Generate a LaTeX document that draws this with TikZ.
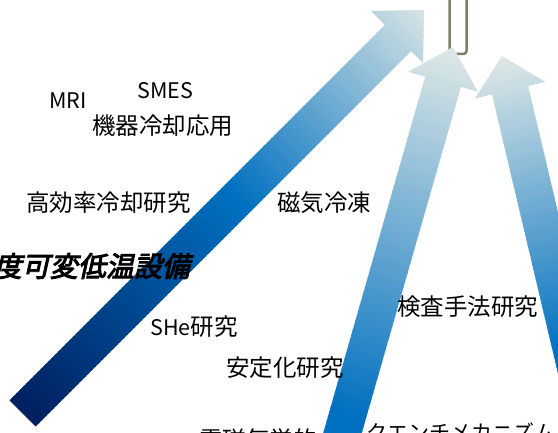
\documentclass[tikz,border=0pt]{standalone}
\usepackage{fontspec}
\setmainfont{Noto Sans CJK JP}
\newfontfamily\cjkbi[FakeSlant=0.22,FakeBold=3.5]{Noto Sans CJK JP}
\definecolor{navyc}{RGB}{0,32,96}
\definecolor{bluec}{RGB}{0,112,192}
\definecolor{palec}{RGB}{222,232,230}
\definecolor{bracketc}{RGB}{118,130,104}
\tikzset{
  lbl/.style={inner sep=0pt, anchor=west, text=black, font=\fontsize{23.5}{26}\selectfont},
  lat/.style={lbl, font=\fontsize{21.5}{24}\selectfont},
  bracketline/.style={bracketc, line width=2.5pt, rounded corners=3pt}
}
\begin{document}
\begin{tikzpicture}[x=1pt,y=-1pt]
\useasboundingbox (0,0) rectangle (558,433);
\clip (0,0) rectangle (558,433);

% big diagonal arrow
\begin{scope}
\clip (9.5,400.5) -- (385,25) -- (371,11) -- (424,10) -- (423,63) -- (411,51) -- (35.5,426.5) -- cycle;
\foreach \u in {0,5,...,575}{
  \ifnum\u<300 \pgfmathtruncatemacro\pp{\u/3}\colorlet{bc}{bluec!\pp!navyc}%
  \else \pgfmathtruncatemacro\pp{min(100,(\u-300)/2.75)}\colorlet{bc}{palec!\pp!bluec}\fi
  \fill[bc] ({22.5+0.7071*(\u-1)-35},{413.5-0.7071*(\u-1)-35}) -- ({22.5+0.7071*(\u+6)-35},{413.5-0.7071*(\u+6)-35}) -- ({22.5+0.7071*(\u+6)+35},{413.5-0.7071*(\u+6)+35}) -- ({22.5+0.7071*(\u-1)+35},{413.5-0.7071*(\u-1)+35}) -- cycle;
}
\end{scope}

% bracket
\draw[bracketline] (449.5,-5) -- (449.5,54) -- (466.5,54) -- (466.5,-5);

% middle arrow
\begin{scope}
\clip (453,47) -- (477.7,91.5) -- (460.9,86.7) -- (331.6,538.4) -- (296,528.2) -- (425.3,76.5) -- (408.5,71.7) -- cycle;
\foreach \u in {0,5,...,500}{
  \ifnum\u<380 \pgfmathtruncatemacro\pp{\u/3.8}\colorlet{bc}{bluec!\pp!palec}%
  \else \colorlet{bc}{bluec}\fi
  \fill[bc] ({453-0.275*(\u-1)-48},{47+0.961*(\u-1)-13.75}) -- ({453-0.275*(\u+6)-48},{47+0.961*(\u+6)-13.75}) -- ({453-0.275*(\u+6)+48},{47+0.961*(\u+6)+13.75}) -- ({453-0.275*(\u-1)+48},{47+0.961*(\u-1)+13.75}) -- cycle;
}
\end{scope}

% right arrow
\begin{scope}
\clip (502,56) -- (545.1,81.8) -- (528.05,85.8) -- (636.1,543.1) -- (600.1,551.7) -- (492.05,94.3) -- (475,98.3) -- cycle;
\foreach \u in {0,5,...,500}{
  \ifnum\u<300 \pgfmathtruncatemacro\pp{\u/3}\colorlet{bc}{bluec!\pp!palec}%
  \else \colorlet{bc}{bluec}\fi
  \fill[bc] ({502+0.23*(\u-1)-48.7},{56+0.973*(\u-1)+11.5}) -- ({502+0.23*(\u+6)-48.7},{56+0.973*(\u+6)+11.5}) -- ({502+0.23*(\u+6)+48.7},{56+0.973*(\u+6)-11.5}) -- ({502+0.23*(\u-1)+48.7},{56+0.973*(\u-1)-11.5}) -- cycle;
}
\end{scope}

% labels
\node[lat] (mri) at (49,100.5) {MRI};
\node[lat] (smes) at (137,91) {SMES};
\node[lbl] (kiki) at (92,125.5) {機器冷却応用};
\node[lbl] (kokoritsu) at (26,202.5) {高効率冷却研究};
\node[lbl] (jiki) at (277,203) {磁気冷凍};
\node[inner sep=0pt, anchor=east, text=black, font=\cjkbi\fontsize{28}{30}\selectfont] (ondo) at (190,266) {度可変低温設備};
\node[lbl] (she) at (150,326.5) {{\fontsize{21.5}{24}\selectfont SHe}研究};
\node[lbl] (antei) at (226,367.5) {安定化研究};
\node[lbl] (kensa) at (397,306.5) {検査手法研究};
\node[lbl, anchor=base west] (denji) at (199,449) {電磁気学的};
\node[lbl, anchor=base west, font=\fontsize{21}{24}\selectfont] (quench) at (366,440) {クエンチメカニズム};
\end{tikzpicture}
\end{document}
